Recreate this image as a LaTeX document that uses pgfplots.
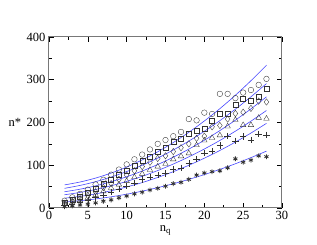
\documentclass[border=0pt]{standalone}
\usepackage{pgfplots}
\pgfplotsset{compat=1.18}
\usepackage{fontspec}
\setmainfont{Liberation Serif}
\definecolor{lineblue}{RGB}{70,70,255}
\definecolor{framegray}{RGB}{120,120,120}
\definecolor{markgray}{RGB}{50,50,50}
\begin{document}
\begin{tikzpicture}
\useasboundingbox (0,0) rectangle (317pt,245pt);
\begin{axis}[
  at={(49pt,37pt)}, anchor=south west,
  width=233pt, height=171pt, scale only axis,
  xmin=0, xmax=30, ymin=0, ymax=400,
  xtick={0,5,...,30}, ytick={0,100,...,400},
  minor x tick num=1, minor y tick num=1,
  tick align=inside, tick pos=both,
  major tick length=5pt, minor tick length=3pt,
  axis line style={framegray, line width=1pt},
  every tick/.style={black, line width=0.5pt},
  tick label style={font=\fontsize{12.5}{12.5}\selectfont},
  /pgf/number format/assume math mode=true,
  xlabel={n\textsubscript{q}},
  ylabel={n*},
  label style={font=\fontsize{12.5}{12.5}\selectfont},
  xlabel style={yshift=1pt},
  ylabel style={rotate=-90, at={(axis description cs:0,0.5)}, anchor=center, xshift=-34pt},
]
% data points
\addplot[only marks, mark=o, mark size=2.8pt, markgray, mark options={line width=0.35pt}] coordinates {
(2,17)(3,25)(4,33)(5,43)(6,55)(7,66)(8,78)(9,90)(10,102)(11,114)(12,125)(13,137)(14,150)(15,159)(16,168)(17,178)(18,208)(19,205)(20,223)(21,220)(22,267)(23,267)(24,257)(25,270)(26,276)(27,288)(28,302)};
\addplot[only marks, mark=square, mark size=2.5pt, markgray, mark options={line width=0.35pt}] coordinates {
(2,13)(3,20)(4,27)(5,35)(6,45)(7,56)(8,66)(9,77)(10,88)(11,99)(12,110)(13,121)(14,131)(15,140)(16,154)(17,161)(18,173)(19,180)(20,186)(21,205)(22,220)(23,221)(24,242)(25,256)(26,250)(27,261)(28,280)};
\addplot[only marks, mark=diamond, mark size=3.2pt, markgray, mark options={line width=0.35pt}] coordinates {
(2,11)(3,16)(4,22)(5,29)(6,38)(7,48)(8,57)(9,67)(10,77)(11,87)(12,97)(13,107)(14,116)(15,122)(16,132)(17,141)(18,150)(19,163)(20,168)(21,190)(22,193)(23,208)(24,221)(25,224)(26,233)(27,250)(28,248)};
\addplot[only marks, mark=triangle, mark size=3.2pt, markgray, mark options={line width=0.35pt}] coordinates {
(2,9)(3,13)(4,18)(5,24)(6,31)(7,39)(8,47)(9,55)(10,63)(11,72)(12,80)(13,89)(14,97)(15,103)(16,114)(17,121)(18,128)(19,147)(20,158)(21,164)(22,170)(23,191)(24,206)(25,194)(26,194)(27,211)(28,209)};
\addplot[only marks, mark=+, mark size=3.2pt, markgray, mark options={line width=0.4pt}] coordinates {
(2,7)(3,10)(4,14)(5,19)(6,25)(7,31)(8,37)(9,44)(10,51)(11,59)(12,67)(13,72)(14,77)(15,81)(16,90)(17,94)(18,104)(19,114)(20,129)(21,133)(22,146)(23,168)(24,157)(25,167)(26,159)(27,173)(28,171)};
\addplot[only marks, mark=asterisk, mark size=2.4pt, markgray, mark options={line width=0.8pt}] coordinates {
(2,3)(3,5)(4,7)(5,9)(6,12)(7,16)(8,19)(9,24)(10,28)(11,33)(12,37)(13,42)(14,46)(15,51)(16,57)(17,60)(18,67)(19,77)(20,82)(21,85)(22,87)(23,94)(24,115)(25,107)(26,112)(27,122)(28,120)};
% fitted curves
\addplot[lineblue, line width=0.6pt, smooth, no marks] coordinates {
(2,54.0)(4,60.8)(6,70.0)(8,81.7)(10,95.8)(12,112.5)(14,131.5)(16,153.1)(18,177.1)(20,203.5)(22,232.4)(24,263.8)(26,297.7)(28,334.0)};
\addplot[lineblue, line width=0.6pt, smooth, no marks] coordinates {
(2,46.0)(4,52.8)(6,61.6)(8,72.4)(10,85.2)(12,100.0)(14,116.8)(16,135.7)(18,156.5)(20,179.4)(22,204.3)(24,231.2)(26,260.1)(28,291.0)};
\addplot[lineblue, line width=0.6pt, smooth, no marks] coordinates {
(2,38.0)(4,44.0)(6,51.9)(8,61.5)(10,73.1)(12,86.5)(14,101.7)(16,118.8)(18,137.7)(20,158.5)(22,181.1)(24,205.5)(26,231.8)(28,260.0)};
\addplot[lineblue, line width=0.6pt, smooth, no marks] coordinates {
(2,31.0)(4,36.4)(6,43.3)(8,52.0)(10,62.2)(12,74.1)(14,87.6)(16,102.8)(18,119.6)(20,138.0)(22,158.0)(24,179.7)(26,203.1)(28,228.0)};
\addplot[lineblue, line width=0.6pt, smooth, no marks] coordinates {
(2,23.0)(4,27.2)(6,33.0)(8,40.3)(10,49.2)(12,59.5)(14,71.5)(16,84.9)(18,99.9)(20,116.5)(22,134.5)(24,154.2)(26,175.3)(28,198.0)};
\addplot[lineblue, line width=0.6pt, smooth, no marks] coordinates {
(2,14.0)(4,17.1)(6,21.1)(8,26.2)(10,32.3)(12,39.4)(14,47.6)(16,56.7)(18,66.9)(20,78.1)(22,90.3)(24,103.5)(26,117.8)(28,133.0)};
\end{axis}
\end{tikzpicture}
\end{document}
